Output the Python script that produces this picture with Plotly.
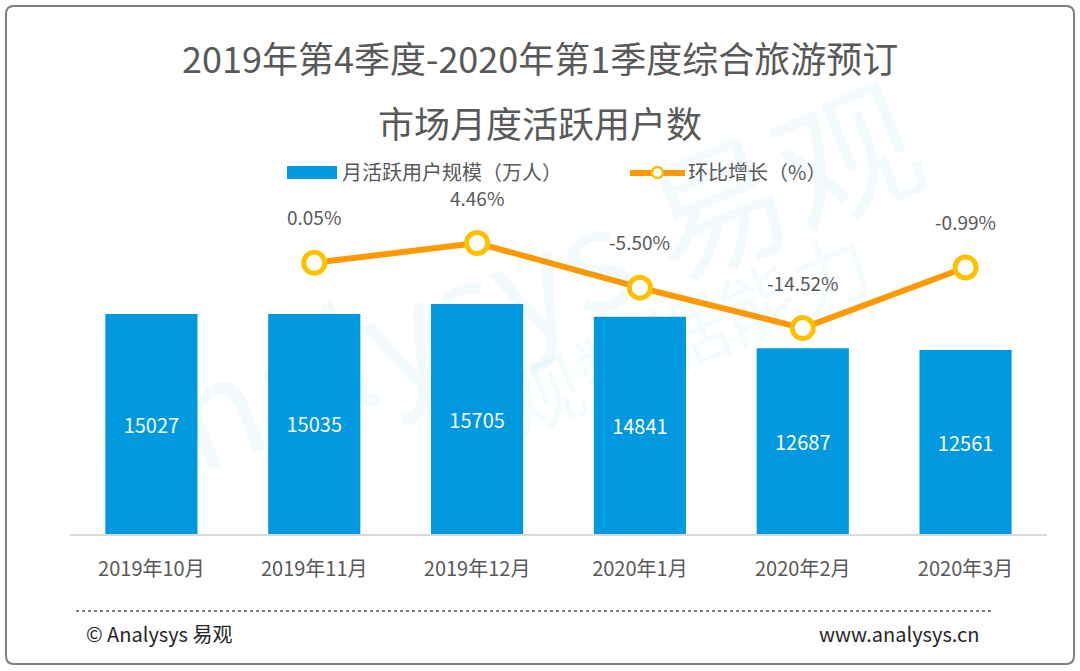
import plotly.graph_objects as go

# data
months = ["2019年10月", "2019年11月", "2019年12月", "2020年1月", "2020年2月", "2020年3月"]
mau = [15027, 15035, 15705, 14841, 12687, 12561]
growth = [None, 0.05, 4.46, -5.50, -14.52, -0.99]
growth_labels = ["", "0.05%", "4.46%", "-5.50%", "-14.52%", "-0.99%"]

title_lines = ["2019年第4季度-2020年第1季度综合旅游预订", "市场月度活跃用户数"]
bar_name = "月活跃用户规模（万人）"
line_name = "环比增长（%）"

FONT = "Noto Sans CJK SC"
GREY = "#595959"
BLUE = "#0099E0"
ORANGE = "#FF9900"
RING = "#FFC000"

W, H = 1080, 671
L, R, T, B = 70, 33, 190, 137

fig = go.Figure()

fig.add_trace(go.Bar(
    x=months, y=mau, name=bar_name,
    marker=dict(color=BLUE, line=dict(width=0)),
    text=[str(v) for v in mau], textposition="inside",
    insidetextanchor="middle",
    textfont=dict(color="white", size=20, family=FONT),
    showlegend=False,
))

fig.add_trace(go.Scatter(
    x=months[1:], y=growth[1:], name=line_name, yaxis="y2",
    mode="lines+markers",
    line=dict(color=ORANGE, width=6),
    marker=dict(size=21, color="white", line=dict(color=RING, width=5)),
    showlegend=False,
))

for m, g, lab in zip(months, growth, growth_labels):
    if g is None:
        continue
    fig.add_annotation(x=m, y=g, xref="x", yref="y2", text=lab, showarrow=False,
                       yshift=46, font=dict(size=19, color=GREY, family=FONT))


def px_x(p):
    return (p - L) / (W - L - R)


def px_y(p):
    return (H - B - p) / (H - T - B)


# watermark
fig.add_annotation(x=px_x(505), y=px_y(285), xref="paper", yref="paper",
                   text="analysys 易观", showarrow=False, textangle=-22,
                   xanchor="center", yanchor="middle",
                   font=dict(size=140, color="rgba(0,153,224,0.05)", family=FONT))
fig.add_annotation(x=px_x(650), y=px_y(345), xref="paper", yref="paper",
                   text="易观数据能力", showarrow=False, textangle=-23,
                   xanchor="center", yanchor="middle",
                   font=dict(size=78, color="rgba(0,153,224,0.045)", family=FONT))

# title
for i, line in enumerate(title_lines):
    fig.add_annotation(x=px_x(540), y=px_y(57 + i * 65), xref="paper", yref="paper",
                       text=line, showarrow=False, xanchor="center", yanchor="middle",
                       font=dict(size=36, color=GREY, family=FONT))

fig.update_layout(
    width=W, height=H,
    margin=dict(l=L, r=R, t=T, b=B),
    paper_bgcolor="white", plot_bgcolor="rgba(0,0,0,0)",
    bargap=0.434,
    font=dict(family=FONT, color=GREY),
    xaxis=dict(showgrid=False, showline=True, linecolor="#D9D9D9", linewidth=2,
               ticks="", tickfont=dict(size=20, color=GREY, family=FONT),
               ticklabelstandoff=16),
    yaxis=dict(range=[0, 23497], visible=False, showgrid=False),
    yaxis2=dict(range=[-60.5, 16.3], overlaying="y", side="right",
                visible=False, showgrid=False),
)

# custom legend
fig.add_shape(type="rect", xref="paper", yref="paper",
              x0=px_x(287), x1=px_x(337), y0=px_y(179), y1=px_y(166),
              fillcolor=BLUE, line=dict(width=0))
fig.add_annotation(x=px_x(340), y=px_y(172), xref="paper", yref="paper",
                   text=bar_name, showarrow=False, xanchor="left", yanchor="middle",
                   font=dict(size=20, color=GREY, family=FONT))
fig.add_shape(type="line", xref="paper", yref="paper",
              x0=px_x(630), x1=px_x(685), y0=px_y(173), y1=px_y(173),
              line=dict(color=ORANGE, width=6))
fig.add_shape(type="circle", xref="paper", yref="paper",
              x0=px_x(652), x1=px_x(663), y0=px_y(178), y1=px_y(167),
              fillcolor="white", line=dict(color=RING, width=2.5))
fig.add_annotation(x=px_x(686), y=px_y(172), xref="paper", yref="paper",
                   text=line_name, showarrow=False, xanchor="left", yanchor="middle",
                   font=dict(size=20, color=GREY, family=FONT))

# footer
fig.add_shape(type="line", xref="paper", yref="paper",
              x0=px_x(76), x1=px_x(993), y0=px_y(611), y1=px_y(611),
              line=dict(color="#7F7F7F", width=2, dash="dot"))
fig.add_annotation(x=px_x(84), y=px_y(633), xref="paper", yref="paper",
                   text="© Analysys 易观", showarrow=False, xanchor="left", yanchor="middle",
                   font=dict(size=20, color="#262626", family=FONT))
fig.add_annotation(x=px_x(981), y=px_y(633), xref="paper", yref="paper",
                   text="www.analysys.cn", showarrow=False, xanchor="right", yanchor="middle",
                   font=dict(size=20, color="#262626", family=FONT))

# outer frame with rounded corners
x0, x1, y0, y1, r = 6, 1074, 6, 664, 8
pts = [
    f"M {px_x(x0 + r)},{px_y(y0)}",
    f"L {px_x(x1 - r)},{px_y(y0)}",
    f"Q {px_x(x1)},{px_y(y0)} {px_x(x1)},{px_y(y0 + r)}",
    f"L {px_x(x1)},{px_y(y1 - r)}",
    f"Q {px_x(x1)},{px_y(y1)} {px_x(x1 - r)},{px_y(y1)}",
    f"L {px_x(x0 + r)},{px_y(y1)}",
    f"Q {px_x(x0)},{px_y(y1)} {px_x(x0)},{px_y(y1 - r)}",
    f"L {px_x(x0)},{px_y(y0 + r)}",
    f"Q {px_x(x0)},{px_y(y0)} {px_x(x0 + r)},{px_y(y0)} Z",
]
fig.add_shape(type="path", xref="paper", yref="paper", path=" ".join(pts),
              line=dict(color="#808080", width=2), fillcolor="rgba(0,0,0,0)")

fig.write_html("out.html", config={"displayModeBar": False},
               post_script="document.body.style.margin='0';")
